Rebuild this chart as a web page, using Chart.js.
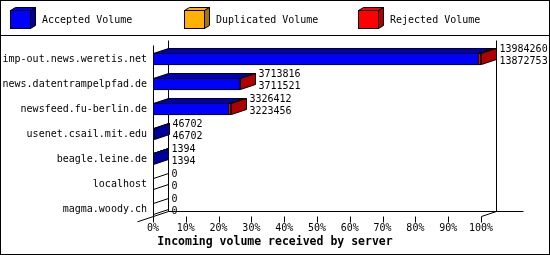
<!DOCTYPE html>
<html>
<head>
<meta charset="utf-8">
<script src="https://cdn.jsdelivr.net/npm/chart.js@4"></script>
<style>
html, body { margin: 0; padding: 0; background: #fff; }
</style>
</head>
<body>
<canvas id="volumeChart" width="550" height="255"></canvas>
<script>
const servers = [
    "imp-out.news.weretis.net",
    "news.datentrampelpfad.de",
    "newsfeed.fu-berlin.de",
    "usenet.csail.mit.edu",
    "beagle.leine.de",
    "localhost",
    "magma.woody.ch"
];
const totalVolume = [13984260, 3713816, 3326412, 46702, 1394, 0, 0];
const acceptedVolume = [13872753, 3711521, 3223456, 46702, 1394, 0, 0];
const duplicatedVolume = [0, 0, 0, 0, 0, 0, 0];
const xTicks = [0, 10, 20, 30, 40, 50, 60, 70, 80, 90, 100];

const rejectedVolume = totalVolume.map((t, i) => t - acceptedVolume[i] - duplicatedVolume[i]);
const maxVolume = Math.max(...totalVolume);
const pct = v => v / maxVolume * 100;

const FONT = "DejaVu Sans Mono";
const DX = 15, DY = -5; // depth of the 3d effect
const frontColors = ["#0000ff", "#ffb000", "#ff0000"];
const topColors = ["#0000b8", "#c88a00", "#c80000"];
const sideColors = ["#0000a0", "#a87400", "#b00000"];

const px = v => Math.round(v) + 0.5;

function poly(ctx, pts, fill) {
    ctx.beginPath();
    pts.forEach((p, i) => i ? ctx.lineTo(p[0], p[1]) : ctx.moveTo(p[0], p[1]));
    ctx.closePath();
    if (fill) {
        ctx.fillStyle = fill;
        ctx.fill();
    }
    ctx.stroke();
}

function line(ctx, x1, y1, x2, y2) {
    ctx.beginPath();
    ctx.moveTo(x1, y1);
    ctx.lineTo(x2, y2);
    ctx.stroke();
}

const box3d = {
    id: "box3d",
    beforeDraw(chart) {
        const ctx = chart.ctx;
        ctx.save();
        ctx.fillStyle = "#fff";
        ctx.fillRect(0, 0, chart.width, chart.height);
        ctx.strokeStyle = "#000";
        ctx.lineWidth = 1;
        ctx.strokeRect(0.5, 0.5, chart.width - 1, chart.height - 1);
        line(ctx, 0, 35.5, chart.width, 35.5);

        // legend with little cubes
        ctx.font = "10px " + FONT;
        ctx.textBaseline = "middle";
        ctx.textAlign = "left";
        chart.data.datasets.forEach((ds, i) => {
            const lx = 10 + i * 174;
            poly(ctx, [[lx + 0.5, 10.5], [lx + 5.5, 7.5], [lx + 25.5, 7.5], [lx + 20.5, 10.5]], frontColors[i]);
            poly(ctx, [[lx + 20.5, 10.5], [lx + 25.5, 7.5], [lx + 25.5, 25.5], [lx + 20.5, 28.5]], sideColors[i]);
            ctx.fillStyle = frontColors[i];
            ctx.fillRect(lx + 0.5, 10.5, 20, 18);
            ctx.strokeRect(lx + 0.5, 10.5, 20, 18);
            ctx.fillStyle = "#000";
            ctx.fillText(ds.label, lx + 32, 20);
        });
        ctx.restore();
    },
    beforeDatasetsDraw(chart) {
        const ctx = chart.ctx;
        const x = chart.scales.x, y = chart.scales.y;
        const x0 = px(x.getPixelForValue(0));
        const x100 = px(x.getPixelForValue(100));
        const floorY = px(y.getPixelForValue(servers.length - 1) + 6.5);
        const backTop = px(chart.chartArea.top - 7);
        ctx.save();
        ctx.strokeStyle = "#000";
        ctx.lineWidth = 1;
        // back walls and floor
        line(ctx, x0 + DX, backTop, x0 + DX, floorY + DY);
        line(ctx, x100 + DX, backTop, x100 + DX, floorY + DY);
        line(ctx, x0 + DX, floorY + DY, x100 + DX + 27, floorY + DY);
        // front axis and depth lines
        line(ctx, x0, backTop + 5, x0, floorY);
        line(ctx, x0 - 16, floorY + 5.3, x0 + DX, floorY + DY);
        line(ctx, x100, floorY, x100 + DX, floorY + DY);
        xTicks.forEach(v => {
            const tx = px(x.getPixelForValue(v));
            line(ctx, tx, floorY, tx, floorY + 6);
        });
        ctx.restore();
    },
    afterDatasetsDraw(chart) {
        const ctx = chart.ctx;
        const x0 = px(chart.scales.x.getPixelForValue(0));
        const metas = chart.data.datasets.map((ds, i) => chart.getDatasetMeta(i));
        ctx.save();
        ctx.strokeStyle = "#000";
        ctx.lineWidth = 1;
        servers.forEach((name, i) => {
            let last = -1, endX = x0, top = 0, bot = 0;
            metas.forEach((meta, d) => {
                const bar = meta.data[i].getProps(["x", "y", "base", "height"], true);
                top = px(bar.y - bar.height / 2);
                bot = px(bar.y + bar.height / 2) - 1;
                if (chart.data.datasets[d].data[i] > 0) {
                    const a = px(bar.base), b = px(bar.x);
                    poly(ctx, [[a, top], [a + DX, top + DY], [b + DX, top + DY], [b, top]], topColors[d]);
                    last = d;
                    endX = b;
                }
            });
            const side = [[endX, top], [endX + DX, top + DY], [endX + DX, bot + DY], [endX, bot]];
            poly(ctx, side, last >= 0 ? sideColors[last] : null);

            // volume numbers next to the bar
            ctx.fillStyle = "#000";
            ctx.font = "10px " + FONT;
            ctx.textAlign = "left";
            ctx.textBaseline = "middle";
            ctx.fillText(String(totalVolume[i]), endX + DX + 3, top - 4);
            ctx.fillText(String(acceptedVolume[i]), endX + DX + 3, top + 7.5);
        });
        ctx.restore();
    }
};

const ctx = document.getElementById("volumeChart").getContext("2d");
new Chart(ctx, {
    type: "bar",
    data: {
        labels: servers,
        datasets: [
            { label: "Accepted Volume", data: acceptedVolume.map(pct), backgroundColor: frontColors[0] },
            { label: "Duplicated Volume", data: duplicatedVolume.map(pct), backgroundColor: frontColors[1] },
            { label: "Rejected Volume", data: rejectedVolume.map(pct), backgroundColor: frontColors[2] }
        ].map(ds => Object.assign(ds, {
            borderColor: "#000",
            borderWidth: 1,
            borderSkipped: false,
            barThickness: 12,
            xAxisID: "x",
            yAxisID: "y"
        }))
    },
    options: {
        indexAxis: "y",
        responsive: false,
        animation: false,
        layout: { padding: { top: 46.5, left: 0, right: 0, bottom: 0 } },
        scales: {
            x: {
                stacked: true,
                min: 0,
                max: 100,
                grid: { display: false, drawTicks: false },
                border: { display: false },
                afterBuildTicks: s => { s.ticks = xTicks.map(v => ({ value: v })); },
                afterFit: s => { s.height = 13.7; },
                ticks: {
                    autoSkip: false,
                    maxRotation: 0,
                    padding: 1,
                    color: "#000",
                    font: { family: FONT, size: 10 },
                    callback: v => v + "%"
                }
            },
            y: {
                stacked: true,
                offset: true,
                grid: { display: false, drawTicks: false },
                border: { display: false },
                afterFit: s => { s.width = 153; },
                ticks: {
                    padding: 6,
                    color: "#000",
                    font: { family: FONT, size: 10 }
                }
            },
            yRight: {
                type: "linear",
                position: "right",
                grid: { display: false, drawTicks: false },
                border: { display: false },
                ticks: { display: false },
                afterFit: s => { s.width = 69; }
            }
        },
        plugins: {
            legend: { display: false },
            tooltip: { enabled: false },
            title: {
                display: true,
                position: "bottom",
                text: "Incoming volume received by server",
                color: "#000",
                font: { family: FONT, size: 11.5, weight: "bold" },
                padding: { top: 0, bottom: 6 }
            }
        }
    },
    plugins: [box3d]
});
</script>
</body>
</html>
